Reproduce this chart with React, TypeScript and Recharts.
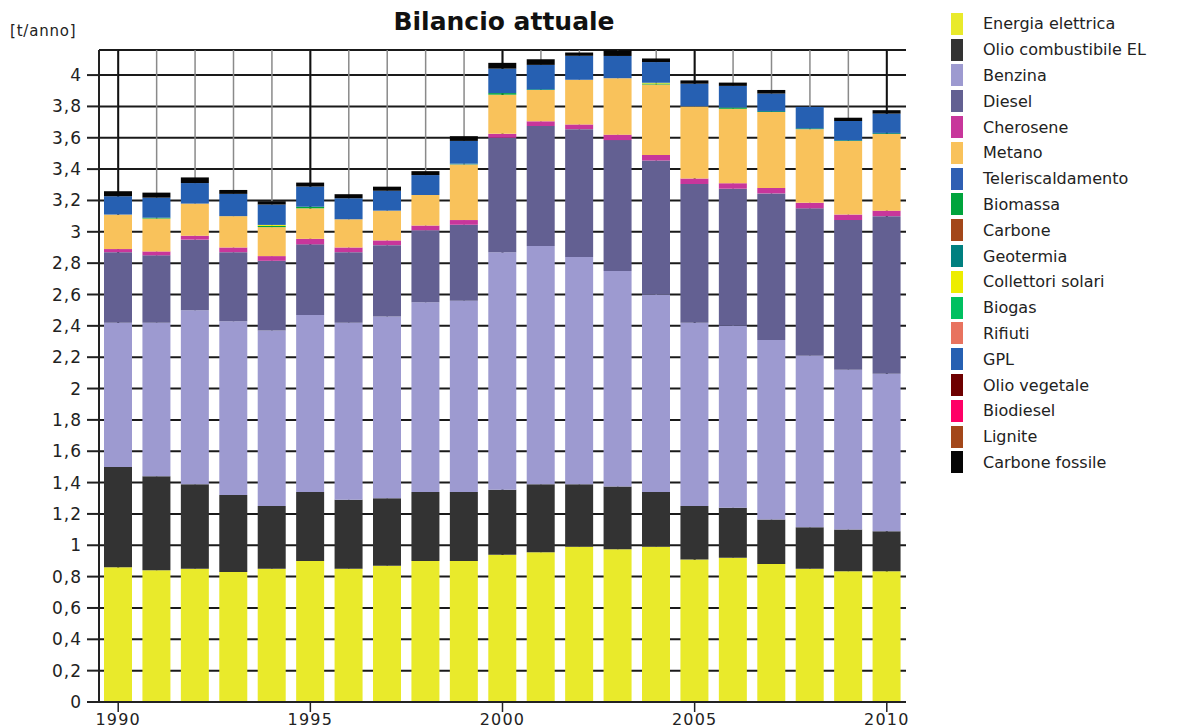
import { BarChart, Bar, XAxis, YAxis, CartesianGrid } from "recharts";

const years = ["1990", "1991", "1992", "1993", "1994", "1995", "1996", "1997", "1998", "1999", "2000",
  "2001", "2002", "2003", "2004", "2005", "2006", "2007", "2008", "2009", "2010"];

const energiaElettrica = [0.86, 0.84, 0.85, 0.83, 0.85, 0.9, 0.85, 0.87, 0.9, 0.9, 0.94, 0.955, 0.99, 0.975, 0.99, 0.91, 0.92, 0.88, 0.85, 0.835, 0.835];
const olioCombustibile = [0.64, 0.6, 0.54, 0.49, 0.4, 0.44, 0.44, 0.43, 0.44, 0.44, 0.415, 0.435, 0.4, 0.4, 0.35, 0.34, 0.32, 0.285, 0.265, 0.265, 0.255];
const benzina = [0.92, 0.98, 1.11, 1.11, 1.12, 1.13, 1.13, 1.16, 1.21, 1.22, 1.515, 1.52, 1.45, 1.375, 1.26, 1.17, 1.16, 1.145, 1.095, 1.02, 1.005];
const diesel = [0.45, 0.43, 0.45, 0.44, 0.445, 0.45, 0.45, 0.455, 0.46, 0.485, 0.73, 0.765, 0.815, 0.835, 0.855, 0.885, 0.875, 0.935, 0.94, 0.955, 1.005];
const cherosene = [0.02, 0.025, 0.025, 0.03, 0.03, 0.035, 0.03, 0.03, 0.03, 0.03, 0.025, 0.03, 0.03, 0.035, 0.035, 0.035, 0.035, 0.035, 0.035, 0.035, 0.035];
const metano = [0.22, 0.21, 0.205, 0.2, 0.185, 0.195, 0.18, 0.19, 0.195, 0.355, 0.25, 0.2, 0.285, 0.36, 0.45, 0.46, 0.475, 0.485, 0.47, 0.47, 0.49];
const teleriscaldamento = [0, 0, 0, 0, 0, 0, 0, 0, 0, 0, 0, 0, 0, 0, 0, 0, 0, 0, 0, 0, 0];
const biomassa = [0, 0.005, 0, 0, 0.008, 0.01, 0, 0, 0, 0, 0.01, 0, 0, 0, 0.006, 0, 0.008, 0, 0, 0, 0];
const carbone = [0, 0, 0, 0, 0, 0, 0, 0, 0, 0, 0, 0, 0, 0, 0, 0, 0, 0, 0, 0, 0];
const geotermia = [0, 0, 0, 0, 0, 0, 0, 0, 0, 0.005, 0, 0.005, 0, 0, 0, 0, 0, 0.006, 0.006, 0.005, 0.006];
const collettoriSolari = [0, 0, 0, 0, 0.006, 0, 0, 0, 0, 0, 0, 0, 0, 0, 0.005, 0, 0, 0, 0, 0, 0];
const biogas = [0, 0, 0, 0, 0, 0, 0, 0, 0, 0, 0, 0, 0, 0, 0, 0, 0, 0, 0, 0, 0];
const rifiuti = [0, 0, 0, 0, 0, 0, 0, 0, 0, 0, 0, 0, 0, 0, 0, 0, 0, 0, 0, 0, 0];
const gpl = [0.117, 0.128, 0.131, 0.142, 0.13, 0.129, 0.134, 0.127, 0.127, 0.145, 0.156, 0.155, 0.153, 0.142, 0.132, 0.145, 0.138, 0.111, 0.136, 0.122, 0.123];
const olioVegetale = [0, 0, 0, 0, 0, 0, 0, 0, 0, 0, 0, 0, 0, 0, 0, 0, 0, 0, 0, 0, 0];
const biodiesel = [0, 0, 0, 0, 0, 0, 0, 0, 0, 0, 0, 0, 0, 0, 0, 0, 0, 0, 0, 0, 0];
const lignite = [0, 0, 0, 0, 0, 0, 0, 0, 0, 0, 0, 0, 0, 0, 0, 0, 0, 0, 0, 0, 0];
const carboneFossile = [0.032, 0.032, 0.036, 0.025, 0.021, 0.025, 0.026, 0.026, 0.025, 0.03, 0.037, 0.036, 0.021, 0.036, 0.023, 0.021, 0.021, 0.023, 0, 0.021, 0.022];

const yTicks = [0, 0.2, 0.4, 0.6, 0.8, 1, 1.2, 1.4, 1.6, 1.8, 2, 2.2, 2.4, 2.6, 2.8, 3, 3.2, 3.4, 3.6, 3.8, 4];

const series = [
  { key: "ee", name: "Energia elettrica", color: "#e9ea2b", values: energiaElettrica },
  { key: "oc", name: "Olio combustibile EL", color: "#333333", values: olioCombustibile },
  { key: "be", name: "Benzina", color: "#9d9ad0", values: benzina },
  { key: "di", name: "Diesel", color: "#636092", values: diesel },
  { key: "ch", name: "Cherosene", color: "#c8369b", values: cherosene },
  { key: "me", name: "Metano", color: "#f9c25b", values: metano },
  { key: "te", name: "Teleriscaldamento", color: "#2f5fb3", values: teleriscaldamento },
  { key: "bm", name: "Biomassa", color: "#00a43c", values: biomassa },
  { key: "ca", name: "Carbone", color: "#a3471a", values: carbone },
  { key: "ge", name: "Geotermia", color: "#008080", values: geotermia },
  { key: "cs", name: "Collettori solari", color: "#eded00", values: collettoriSolari },
  { key: "bg", name: "Biogas", color: "#00c060", values: biogas },
  { key: "ri", name: "Rifiuti", color: "#e8735f", values: rifiuti },
  { key: "gp", name: "GPL", color: "#2660b2", values: gpl },
  { key: "ov", name: "Olio vegetale", color: "#6e0000", values: olioVegetale },
  { key: "bd", name: "Biodiesel", color: "#ff0066", values: biodiesel },
  { key: "li", name: "Lignite", color: "#a3471a", values: lignite },
  { key: "cf", name: "Carbone fossile", color: "#050505", values: carboneFossile },
];

const data = years.map((year, i) => {
  const row: Record<string, any> = { year };
  series.forEach((s) => (row[s.key] = s.values[i]));
  return row;
});

const font = "'DejaVu Sans', sans-serif";
const fmt = (v: number) => String(Number(v.toFixed(1))).replace(".", ",");

const allCenters = ({ offset }: any) =>
  years.map((_, i) => offset.left + (offset.width * (i + 0.5)) / years.length);
const fiveCenters = ({ offset }: any) =>
  years.map((_, i) => offset.left + (offset.width * (i + 0.5)) / years.length).filter((_, i) => i % 5 === 0);

export default function App() {
  return (
    <div style={{ position: "absolute", left: 0, top: 0, width: 1179, height: 728, background: "#fff", fontFamily: font }}>
      <div style={{ position: "absolute", left: 10, top: 22, fontSize: 15, letterSpacing: 0.8, color: "#222" }}>[t/anno]</div>
      <div style={{ position: "absolute", left: 304, width: 400, top: 7, textAlign: "center", fontSize: 25, fontWeight: "bold", color: "#111" }}>
        Bilancio attuale
      </div>
      <BarChart width={1179} height={728} data={data} margin={{ top: 50, right: 273, left: 0, bottom: 0 }} barSize={28}>
        <CartesianGrid vertical={false} stroke="#1a1a1a" strokeWidth={2} />
        <CartesianGrid horizontal={false} verticalCoordinatesGenerator={allCenters} stroke="#8a8a8a" strokeWidth={1.5} />
        <CartesianGrid horizontal={false} verticalCoordinatesGenerator={fiveCenters} stroke="#111" strokeWidth={2} />
        <XAxis
          dataKey="year"
          interval={4}
          height={26}
          tickSize={10}
          tickMargin={2}
          axisLine={{ stroke: "#222", strokeWidth: 2 }}
          tickLine={{ stroke: "#222", strokeWidth: 1.5 }}
          tick={{ fill: "#222", fontSize: 16, fontFamily: font, letterSpacing: 1.2 }}
        />
        <YAxis
          type="number"
          domain={[0, 4.16]}
          ticks={yTicks}
          width={99}
          tickSize={12}
          tickMargin={5}
          tickFormatter={fmt}
          axisLine={{ stroke: "#222", strokeWidth: 2 }}
          tickLine={{ stroke: "#222", strokeWidth: 2 }}
          tick={{ fill: "#222", fontSize: 17, fontFamily: font, letterSpacing: 1 }}
        />
        {series.map((s) => (
          <Bar key={s.key} dataKey={s.key} name={s.name} stackId="a" fill={s.color} isAnimationActive={false} />
        ))}
      </BarChart>
      <div style={{ position: "absolute", left: 951, top: 11 }}>
        {series.map((s) => (
          <div key={s.key} style={{ display: "flex", alignItems: "center", height: 25.8 }}>
            <div style={{ width: 12, height: 22, background: s.color }} />
            <span style={{ marginLeft: 20, fontSize: 16, color: "#222", whiteSpace: "nowrap" }}>{s.name}</span>
          </div>
        ))}
      </div>
    </div>
  );
}
